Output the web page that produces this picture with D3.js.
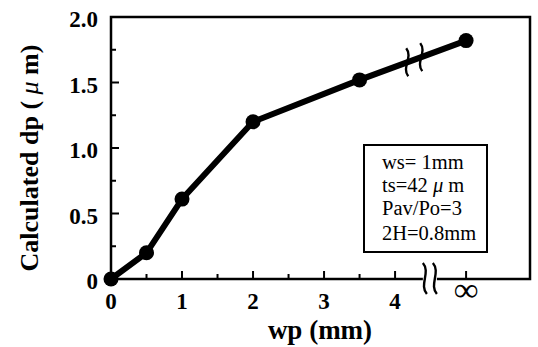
<!DOCTYPE html>
<html><head><meta charset="utf-8">
<script src="https://cdn.jsdelivr.net/npm/d3@7"></script>
<style>
html,body{margin:0;padding:0;background:#fff;}
svg{display:block;font-family:"Liberation Serif","Times New Roman",serif;}
</style></head>
<body><svg id="c" width="538" height="347"></svg>
<script>
// Data
const wpLabels = ["0", "0.5", "1", "2", "3.5", "∞"];
const wpValues = [0, 0.5, 1, 2, 3.5, 5];      // ∞ drawn at axis position 5 (after the break)
const dpValues = [0, 0.2, 0.61, 1.2, 1.52, 1.82];
const xTickValues = [0, 1, 2, 3, 4];
const xTickLabels = ["0", "1", "2", "3", "4"];
const xMinorTicks = [0.5, 1.5, 2.5, 3.5, 5];
const yTickValues = [0, 0.5, 1.0, 1.5, 2.0];
const yTickLabels = ["0", "0.5", "1.0", "1.5", "2.0"];
const yMinorTicks = [0.25, 0.75, 1.25, 1.75];
const infinityPos = 5;
const axisBreakPos = 4.49;
const lineBreakPos = 4.27;
const boxLines = [["ws= 1mm"], ["ts=42 ", "μ", " m"], ["Pav/Po=3"], ["2H=0.8mm"]];

const svg = d3.select("#c");
const L = 111, R = 530, T = 17, B = 279;
const x = d3.scaleLinear().domain([0, 5.9]).range([L, R]);
const y = d3.scaleLinear().domain([0, 2]).range([B, T]);

// frame
svg.append("rect").attr("x", L).attr("y", T).attr("width", R - L).attr("height", B - T)
  .attr("fill", "none").attr("stroke", "#000").attr("stroke-width", 2.5);

// x ticks (inward)
const gx = svg.append("g");
gx.selectAll(".maj").data(xTickValues).enter().append("line")
  .attr("x1", d => x(d)).attr("x2", d => x(d)).attr("y1", B).attr("y2", B - 8)
  .attr("stroke", "#000").attr("stroke-width", 2);
gx.selectAll(".min").data(xMinorTicks).enter().append("line")
  .attr("x1", d => x(d)).attr("x2", d => x(d)).attr("y1", B).attr("y2", d => d === infinityPos ? B - 8 : B - 5)
  .attr("stroke", "#000").attr("stroke-width", 2);
gx.selectAll("text").data(xTickValues).enter().append("text")
  .attr("x", d => x(d)).attr("y", 309).attr("text-anchor", "middle")
  .attr("font-size", 23).attr("font-weight", "bold").text((d, i) => xTickLabels[i]);
svg.append("text").attr("x", x(infinityPos)).attr("y", 301).attr("text-anchor", "middle")
  .attr("font-size", 34).attr("font-weight", "bold").text(wpLabels[5]);

// y ticks
const gy = svg.append("g");
gy.selectAll(".maj").data(yTickValues).enter().append("line")
  .attr("y1", d => y(d)).attr("y2", d => y(d)).attr("x1", L).attr("x2", L + 8)
  .attr("stroke", "#000").attr("stroke-width", 2);
gy.selectAll(".min").data(yMinorTicks).enter().append("line")
  .attr("y1", d => y(d)).attr("y2", d => y(d)).attr("x1", L).attr("x2", L + 5)
  .attr("stroke", "#000").attr("stroke-width", 2);
gy.selectAll("text").data(yTickValues).enter().append("text")
  .attr("x", 98).attr("y", d => y(d) + 10).attr("text-anchor", "end")
  .attr("font-size", 23).attr("font-weight", "bold").text((d, i) => yTickLabels[i]);

// axis titles
svg.append("text").attr("x", 320).attr("y", 339).attr("text-anchor", "middle")
  .attr("font-size", 27).attr("font-weight", "bold").text("wp (mm)");
const yt = svg.append("text").attr("transform", "translate(38,158) rotate(-90)").attr("text-anchor", "middle")
  .attr("font-size", 26).attr("font-weight", "bold");
yt.append("tspan").text("Calculated dp ( ");
yt.append("tspan").attr("font-style", "italic").attr("font-weight", "normal").text("μ");
yt.append("tspan").text(" m)");

// x-axis break
const bx = x(axisBreakPos);
svg.append("rect").attr("x", bx - 7).attr("y", B - 3).attr("width", 14).attr("height", 6).attr("fill", "#fff");
[-5, 5].forEach(dx => {
  svg.append("path")
    .attr("d", `M${bx + dx - 2},${B - 16} C${bx + dx + 6},${B - 7} ${bx + dx - 6},${B + 6} ${bx + dx + 2},${B + 15}`)
    .attr("fill", "none").attr("stroke", "#000").attr("stroke-width", 2.4);
});

// data line
const line = d3.line().x((d, i) => x(wpValues[i])).y((d, i) => y(dpValues[i]));
svg.append("path").datum(dpValues).attr("d", line)
  .attr("fill", "none").attr("stroke", "#000").attr("stroke-width", 6).attr("stroke-linejoin", "round");

// line break marks
const i1 = 4, i2 = 5;
const frac = (lineBreakPos - wpValues[i1]) / (wpValues[i2] - wpValues[i1]);
const lbx = x(lineBreakPos), lby = y(dpValues[i1] + frac * (dpValues[i2] - dpValues[i1]));
[-7, 7].forEach(dx => {
  const cx = lbx + dx, cy = lby - dx * 0.37;
  svg.append("path")
    .attr("d", `M${cx - 1},${cy - 14} C${cx + 6},${cy - 5} ${cx - 6},${cy + 5} ${cx + 1},${cy + 14}`)
    .attr("fill", "none").attr("stroke", "#000").attr("stroke-width", 2.4);
});

// markers
svg.selectAll(".pt").data(dpValues).enter().append("circle")
  .attr("cx", (d, i) => x(wpValues[i])).attr("cy", d => y(d)).attr("r", 7.5).attr("fill", "#000");

// inset box
svg.append("rect").attr("x", 364).attr("y", 145).attr("width", 123).attr("height", 107)
  .attr("fill", "#fff").attr("stroke", "#000").attr("stroke-width", 2);
const by = [169, 192, 215, 240];
boxLines.forEach((parts, i) => {
  const t = svg.append("text").attr("x", 382).attr("y", by[i]).attr("font-size", 20.5);
  parts.forEach(p => {
    const s = t.append("tspan").text(p);
    if (p === "μ") s.attr("font-style", "italic");
  });
});
</script></body></html>
